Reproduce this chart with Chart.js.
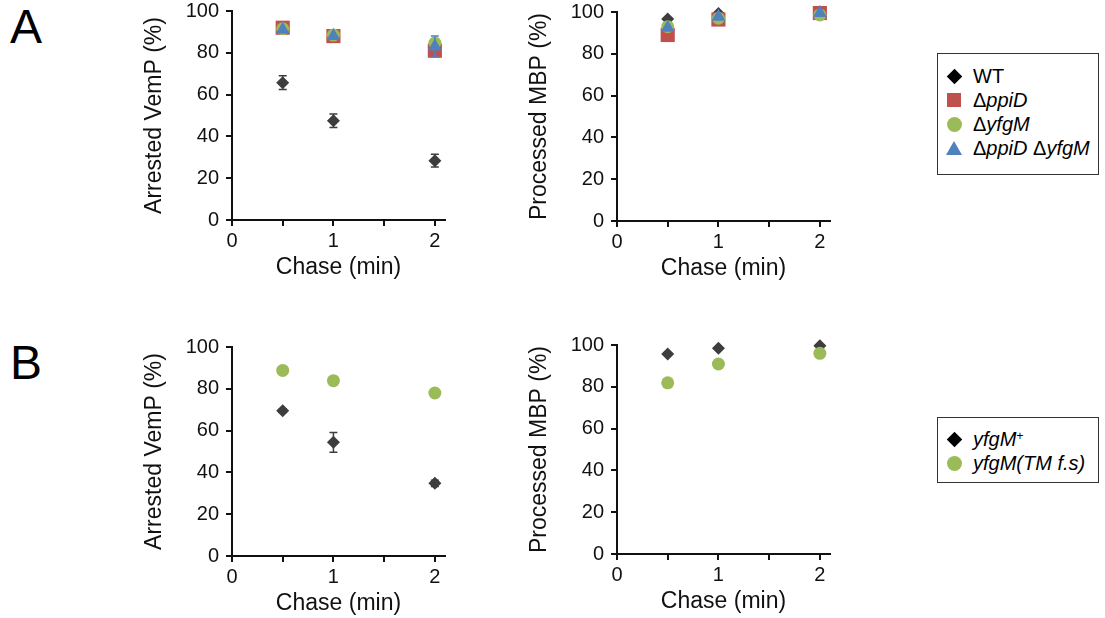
<!DOCTYPE html>
<html>
<head>
<meta charset="utf-8">
<script src="https://cdn.jsdelivr.net/npm/chart.js@4"></script>
<style>
  body { margin: 0; width: 1105px; height: 618px; background: #fff; position: relative; overflow: hidden;
         font-family: "Liberation Sans", Arial, sans-serif; }
  canvas { position: absolute; }
  .panel-label { position: absolute; left: 10px; font-size: 48px; line-height: 48px; color: #000; }
  .legend { position: absolute; left: 937px; width: 162px; border: 1.5px solid #333; box-sizing: border-box; }
  .legend .row { display: flex; align-items: center; height: 24px; font-size: 20px; color: #000; }
  .legend .mk { width: 20px; margin-left: 6px; margin-right: 9px; display: flex; justify-content: center; align-items: center; }
  .diamond { width: 11px; height: 11px; background: #000; transform: rotate(45deg); }
  .square { width: 14px; height: 14px; background: #c0504d; }
  .circle { width: 15px; height: 15px; border-radius: 50%; background: #9bbb59; }
  .triangle { width: 0; height: 0; border-left: 8px solid transparent; border-right: 8px solid transparent; border-bottom: 14px solid #4f81bd; }
  i { font-style: italic; }
  sup { font-size: 12px; vertical-align: 6px; }
</style>
</head>
<body>
<div class="panel-label" style="top:3px">A</div>
<div class="panel-label" style="top:339px">B</div>

<canvas id="vempA" width="330" height="298" style="left:130px; top:-8px"></canvas>
<canvas id="mbpA" width="330" height="298" style="left:515px; top:-7px"></canvas>
<canvas id="vempB" width="330" height="298" style="left:130px; top:328px"></canvas>
<canvas id="mbpB" width="330" height="298" style="left:515px; top:326px"></canvas>

<div class="legend" style="top:53px; height:122px; padding-top:10px">
  <div class="row"><span class="mk"><span class="diamond"></span></span>WT</div>
  <div class="row"><span class="mk"><span class="square"></span></span>Δ<i>ppiD</i></div>
  <div class="row"><span class="mk"><span class="circle"></span></span>Δ<i>yfgM</i></div>
  <div class="row"><span class="mk"><span class="triangle"></span></span>Δ<i>ppiD</i>&nbsp;Δ<i>yfgM</i></div>
</div>
<div class="legend" style="top:417px; height:66px; padding-top:9px">
  <div class="row"><span class="mk"><span class="diamond"></span></span><i>yfgM<sup>+</sup></i></div>
  <div class="row"><span class="mk"><span class="circle"></span></span><i>yfgM(TM f.s)</i></div>
</div>

<script>
// chase times (min) and x tick positions
const chaseTimes = [0.5, 1, 2];
const xTickValues = [0, 0.5, 1, 1.5, 2];

// A: arrested VemP (%)
const vempWT = [65.7, 47.5, 28.4];
const vempWTErr = [3.3, 3.2, 3];
const vempPpiD = [92, 88, 81];
const vempYfgM = [91.5, 88.5, 84.7];
const vempDouble = [91, 88, 83];
const vempDoubleErr = [0, 0, 5];

// A: processed MBP (%)
const mbpWT = [96.6, 99.3, 100];
const mbpPpiD = [89, 96.4, 99.5];
const mbpYfgM = [93, 97, 98.6];
const mbpDouble = [92.5, 97.7, 99.5];

// B: yfgM+ vs yfgM(TM f.s)
const vempPlus = [69.5, 54.4, 34.8];
const vempPlusErr = [0.8, 4.7, 1.5];
const vempTM = [88.8, 83.9, 78];
const mbpPlus = [95.7, 98.4, 99.7];
const mbpTM = [81.9, 90.9, 96];

const WT_COLOR = '#3d3d3d';
const RED = '#c0504d';
const GREEN = '#9bbb59';
const BLUE = '#4f81bd';

const FONT = '"Liberation Sans", Arial, sans-serif';

// draw error bars right after each dataset so layering follows the markers
const errorBars = {
    id: 'errorBars',
    afterDatasetDraw(chart, args) {
        const ds = chart.data.datasets[args.index];
        if (!ds.errors) return;
        const { ctx, scales: { x, y } } = chart;
        ctx.save();
        ctx.strokeStyle = ds.borderColor;
        ctx.lineWidth = 1.5;
        ds.data.forEach((p, i) => {
            const e = ds.errors[i];
            if (!e) return;
            const px = x.getPixelForValue(p.x);
            const top = y.getPixelForValue(p.y + e);
            const bot = y.getPixelForValue(p.y - e);
            ctx.beginPath();
            ctx.moveTo(px, top); ctx.lineTo(px, bot);
            ctx.moveTo(px - 4, top); ctx.lineTo(px + 4, top);
            ctx.moveTo(px - 4, bot); ctx.lineTo(px + 4, bot);
            ctx.stroke();
        });
        ctx.restore();
    }
};

function series(values, style, radius, color, errors) {
    return { values, style, radius, color, errors };
}

function createPanel(canvasId, yTitle, sets) {
    const ctx = document.getElementById(canvasId).getContext('2d');
    new Chart(ctx, {
        type: 'scatter',
        data: {
            datasets: sets.map((s, i) => ({
                data: chaseTimes.map((t, j) => ({ x: t, y: s.values[j] })),
                pointStyle: s.style,
                pointRadius: s.radius,
                backgroundColor: s.color,
                borderColor: s.color,
                borderWidth: 0,
                showLine: false,
                clip: false,
                order: sets.length - i,   // later series on top, like the original
                errors: s.errors
            }))
        },
        options: {
            responsive: false,
            animation: false,
            events: [],
            layout: { padding: { top: 11, right: 15, bottom: 0, left: 0 } },
            plugins: { legend: { display: false }, tooltip: { enabled: false } },
            scales: {
                x: {
                    type: 'linear',
                    min: 0,
                    max: 2.1,
                    afterBuildTicks: scale => { scale.ticks = xTickValues.map(v => ({ value: v })); },
                    afterFit: scale => { scale.height = 70; },
                    ticks: {
                        autoSkip: false,
                        maxRotation: 0,
                        padding: 3,
                        color: '#111',
                        font: { family: FONT, size: 20 },
                        callback: v => Number.isInteger(v) ? String(v) : ''
                    },
                    grid: { drawOnChartArea: false, drawTicks: true, tickLength: 6, color: '#111', lineWidth: 2 },
                    border: { display: true, color: '#111', width: 2 },
                    title: {
                        display: true,
                        text: 'Chase (min)',
                        color: '#111',
                        font: { family: FONT, size: 23 },
                        padding: { top: 0, bottom: 9 }
                    }
                },
                y: {
                    min: 0,
                    max: 100,
                    afterFit: scale => { scale.width = 102; },
                    ticks: { stepSize: 20, padding: 7, color: '#111', font: { family: FONT, size: 20 } },
                    grid: { drawOnChartArea: false, drawTicks: true, tickLength: 6, color: '#111', lineWidth: 2 },
                    border: { display: true, color: '#111', width: 2 },
                    title: {
                        display: true,
                        text: yTitle,
                        color: '#111',
                        font: { family: FONT, size: 23 },
                        padding: { top: 11, bottom: 0 }
                    }
                }
            }
        },
        plugins: [errorBars]
    });
}

createPanel('vempA', 'Arrested VemP (%)', [
    series(vempWT, 'rectRot', 6.5, WT_COLOR, vempWTErr),
    series(vempPpiD, 'rect', 10, RED),
    series(vempYfgM, 'circle', 6.5, GREEN),
    series(vempDouble, 'triangle', 8, BLUE, vempDoubleErr)
]);

createPanel('mbpA', 'Processed MBP (%)', [
    series(mbpWT, 'rectRot', 6.5, WT_COLOR),
    series(mbpPpiD, 'rect', 10, RED),
    series(mbpYfgM, 'circle', 6.5, GREEN),
    series(mbpDouble, 'triangle', 8, BLUE)
]);

createPanel('vempB', 'Arrested VemP (%)', [
    series(vempPlus, 'rectRot', 6.5, WT_COLOR, vempPlusErr),
    series(vempTM, 'circle', 6.5, GREEN)
]);

createPanel('mbpB', 'Processed MBP (%)', [
    series(mbpPlus, 'rectRot', 6.5, WT_COLOR),
    series(mbpTM, 'circle', 6.5, GREEN)
]);
</script>
</body>
</html>
